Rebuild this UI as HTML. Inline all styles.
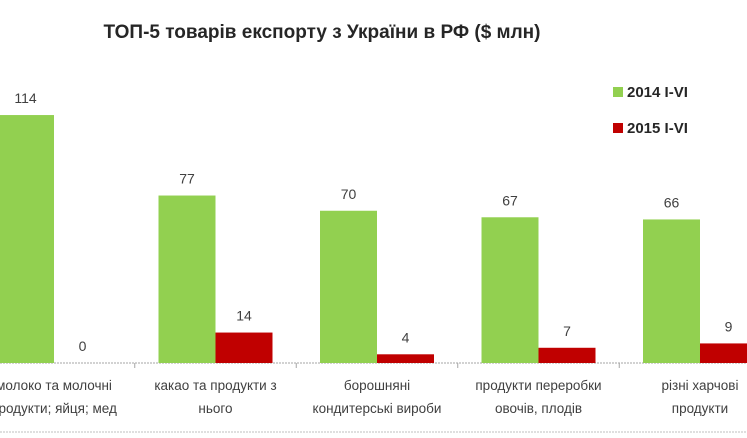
<!DOCTYPE html>
<html><head><meta charset="utf-8"><style>
body{margin:0;background:#fff;width:747px;height:433px;overflow:hidden;font-family:"Liberation Sans","DejaVu Sans",sans-serif}
</style></head><body>
<svg width="747" height="433" viewBox="0 0 747 433">
<text x="322" y="38" text-anchor="middle" font-size="19" font-weight="bold" fill="#262626">ТОП-5 товарів експорту з України в РФ ($ млн)</text>
<line x1="0" y1="363" x2="747" y2="363" stroke="#a6a6a6" stroke-width="1" stroke-dasharray="2,1"/>
<line x1="0" y1="432" x2="747" y2="432" stroke="#bfbfbf" stroke-width="1" stroke-dasharray="2,1"/>
<g id="ticks"></g>
<g id="bars"></g>
<g id="labels"></g>
<g id="cats"></g>
<g>
<rect x="613" y="87" width="10" height="10" fill="#92d050"/>
<text x="627" y="97" font-size="15" font-weight="bold" fill="#262626">2014 I-VI</text>
<rect x="613" y="123" width="10" height="10" fill="#c00000"/>
<text x="627" y="133" font-size="15" font-weight="bold" fill="#262626">2015 I-VI</text>
</g>
</svg>
<script>
const categories=[["молоко та молочні","продукти; яйця; мед"],["какао та продукти з","нього"],["борошняні","кондитерські вироби"],["продукти переробки","овочів, плодів"],["різні харчові","продукти"]];
const series2014=[114,77,70,67,66];
const series2015=[0,14,4,7,9];
const NS="http://www.w3.org/2000/svg";
const base=363, k=2.175, pitch=161.5, c0=54, bw=57;
const y=v=>base-v*k;
const xc=i=>c0+i*pitch;
function mk(tag,attrs,parent){const e=document.createElementNS(NS,tag);for(const a in attrs)e.setAttribute(a,attrs[a]);document.getElementById(parent).appendChild(e);return e;}
for(let i=0;i<=categories.length;i++){
 const tx=xc(i)-pitch/2;
 const t=mk('line',{x1:tx,x2:tx,y1:base,y2:base+5,stroke:'#a6a6a6'},'ticks');
 
 
}
categories.forEach((c,i)=>{
 const x=xc(i);
 const g=mk('rect',{x:x-bw,y:y(series2014[i]),width:bw,height:series2014[i]*k,fill:'#92d050'},'bars');
 
 
 const r=mk('rect',{x:x,y:y(series2015[i]),width:bw,height:series2015[i]*k,fill:'#c00000'},'bars');
 
 
 const l1=mk('text',{x:x-bw/2,y:y(series2014[i])-12,'text-anchor':'middle','font-size':14,fill:'#404040'},'labels');
 l1.textContent=series2014[i];
 
 
 const l2=mk('text',{x:x+bw/2,y:y(series2015[i])-12,'text-anchor':'middle','font-size':14,fill:'#404040'},'labels');
 l2.textContent=series2015[i];
 
 
 c.forEach((line,j)=>{
  const t=mk('text',{x:x,y:390+j*23,'text-anchor':'middle','font-size':13.5,fill:'#404040'},'cats');
  t.textContent=line;
  
  
 });
});
</script>
</body></html>
